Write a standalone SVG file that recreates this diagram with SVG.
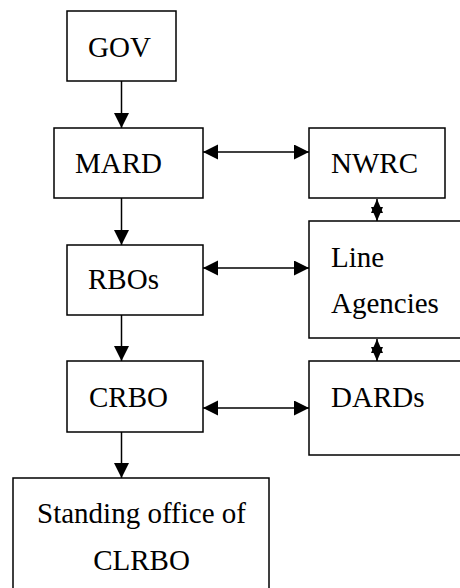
<svg xmlns="http://www.w3.org/2000/svg" width="460" height="588" viewBox="0 0 460 588">
<style>
.box{fill:#fff;stroke:#000;stroke-width:1.5}
.lbl{font-family:"Liberation Serif","Times New Roman",serif;font-size:29px;fill:#000}
.con{stroke:#000;stroke-width:1.5;fill:none}
</style>
<defs>
<marker id="ah" markerUnits="userSpaceOnUse" markerWidth="16" markerHeight="16" refX="15" refY="7.5" orient="auto-start-reverse" viewBox="0 0 16 16">
<path d="M0,0 L15,7.5 L0,15 z" fill="#000"/>
</marker>
<marker id="as" markerUnits="userSpaceOnUse" markerWidth="15" markerHeight="13" refX="14" refY="6" orient="auto-start-reverse" viewBox="0 0 15 13">
<path d="M0,0 L14,6 L0,12 z" fill="#000"/>
</marker>
</defs>
<g id="connectors">
<line class="con" x1="121.5" y1="81" x2="121.5" y2="128" marker-end="url(#ah)"/>
<line class="con" x1="121.5" y1="198" x2="121.5" y2="245" marker-end="url(#ah)"/>
<line class="con" x1="121.5" y1="315" x2="121.5" y2="361" marker-end="url(#ah)"/>
<line class="con" x1="121.5" y1="432" x2="121.5" y2="478" marker-end="url(#ah)"/>
<line class="con" x1="203" y1="152" x2="309" y2="152" marker-start="url(#ah)" marker-end="url(#ah)"/>
<line class="con" x1="203" y1="268" x2="309" y2="268" marker-start="url(#ah)" marker-end="url(#ah)"/>
<line class="con" x1="203" y1="408" x2="309" y2="408" marker-start="url(#ah)" marker-end="url(#ah)"/>
<line class="con" x1="377" y1="199" x2="377" y2="221" marker-start="url(#as)" marker-end="url(#as)"/>
<line class="con" x1="377" y1="339" x2="377" y2="361" marker-start="url(#as)" marker-end="url(#as)"/>
</g>
<g id="gov"><rect class="box" x="67" y="11" width="109" height="70"/><text class="lbl" x="88" y="57">GOV</text></g>
<g id="mard"><rect class="box" x="54" y="128" width="149" height="70"/><text class="lbl" x="75" y="172.5">MARD</text></g>
<g id="rbos"><rect class="box" x="67" y="245" width="136" height="70"/><text class="lbl" x="88" y="289">RBOs</text></g>
<g id="crbo"><rect class="box" x="67" y="361" width="136" height="71"/><text class="lbl" x="89" y="406.5">CRBO</text></g>
<g id="standing"><rect class="box" x="13" y="478" width="256" height="120"/><text class="lbl" x="141.5" y="522.5" text-anchor="middle">Standing office of</text><text class="lbl" x="141.5" y="570" text-anchor="middle">CLRBO</text></g>
<g id="nwrc"><rect class="box" x="309" y="128" width="136" height="70"/><text class="lbl" x="331" y="172.5">NWRC</text></g>
<g id="line-agencies"><rect class="box" x="309" y="221" width="160" height="117"/><text class="lbl" x="331" y="266.5">Line</text><text class="lbl" x="331" y="312.5">Agencies</text></g>
<g id="dards"><rect class="box" x="309" y="361" width="160" height="94"/><text class="lbl" x="331" y="406.5">DARDs</text></g>
</svg>
